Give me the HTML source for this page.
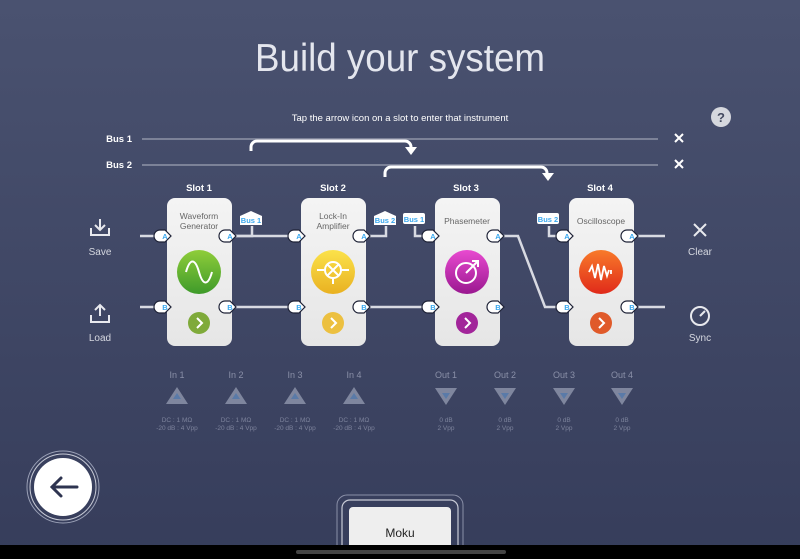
<!DOCTYPE html>
<html><head><meta charset="utf-8"><style>
html,body{margin:0;padding:0;width:800px;height:559px;overflow:hidden;background:#424a68}
svg{display:block;font-family:"Liberation Sans",sans-serif}
</style></head><body>
<svg width="800" height="559" viewBox="0 0 800 559" xmlns="http://www.w3.org/2000/svg">
<defs>
<linearGradient id="bg" x1="0" y1="0" x2="0" y2="1"><stop offset="0" stop-color="#4a5270"/><stop offset="1" stop-color="#363d5b"/></linearGradient>
<linearGradient id="card" x1="0" y1="0" x2="0" y2="1"><stop offset="0" stop-color="#f4f4f4"/><stop offset="1" stop-color="#e6e6e6"/></linearGradient>
<linearGradient id="g1" x1="0" y1="0" x2="0" y2="1"><stop offset="0" stop-color="#8fcd3a"/><stop offset="1" stop-color="#3e9a2a"/></linearGradient>
<linearGradient id="g2" x1="0" y1="0" x2="0" y2="1"><stop offset="0" stop-color="#fbe24a"/><stop offset="1" stop-color="#e9b121"/></linearGradient>
<linearGradient id="g3" x1="0" y1="0" x2="0" y2="1"><stop offset="0" stop-color="#e84ad0"/><stop offset="1" stop-color="#9a1890"/></linearGradient>
<linearGradient id="g4" x1="0" y1="0" x2="0" y2="1"><stop offset="0" stop-color="#f87a2a"/><stop offset="1" stop-color="#e02a1a"/></linearGradient>
<g id="portL"><path d="M-7,-6 h5 l6,6 l-6,6 h-5 a6,6 0 0 1 0,-12z" fill="#fff" stroke="#1e2236" stroke-width="1.2"/></g>
</defs>
<rect width="800" height="559" fill="url(#bg)"/>
<text x="400" y="71" font-size="39" font-weight="300" fill="#e4e6ee" text-anchor="middle" textLength="290" lengthAdjust="spacingAndGlyphs">Build your system</text>
<text x="400" y="121" font-size="9.5" fill="#fff" text-anchor="middle">Tap the arrow icon on a slot to enter that instrument</text>
<circle cx="721" cy="117" r="10" fill="#d6d8de"/><text x="721" y="122" font-size="13" font-weight="bold" fill="#444a60" text-anchor="middle">?</text>
<g font-size="9.5" font-weight="bold" fill="#fff" text-anchor="end"><text x="132" y="142">Bus 1</text><text x="132" y="168">Bus 2</text></g>
<line x1="142" y1="139" x2="658" y2="139" stroke="#7c8298" stroke-width="2"/>
<line x1="142" y1="165" x2="658" y2="165" stroke="#7c8298" stroke-width="2"/>
<g stroke="#fff" stroke-width="2"><path d="M675,134 l8,8 M683,134 l-8,8"/><path d="M675,160 l8,8 M683,160 l-8,8"/></g>
<g fill="none" stroke="#fff" stroke-width="3"><path d="M251,151 v-4 a6,6 0 0 1 6,-6 h148 a6,6 0 0 1 6,6 v1"/><path d="M385,177 v-4 a6,6 0 0 1 6,-6 h150 a6,6 0 0 1 6,6 v1"/></g>
<path d="M405,147 h12 l-6,8z M542,173 h12 l-6,8z" fill="#fff"/>
<g font-size="9.5" font-weight="bold" fill="#fff" text-anchor="middle"><text x="199" y="191">Slot 1</text><text x="333" y="191">Slot 2</text><text x="466" y="191">Slot 3</text><text x="600" y="191">Slot 4</text></g>
<g fill="none" stroke="#d8dae2" stroke-width="2.5">
<path d="M140,236 H167 M140,307 H167"/>
<path d="M232,236 H301 M232,307 H301"/>
<path d="M366,307 H435"/>
<path d="M500,236 H518 L545,307 H569"/>
<path d="M634,236 H665 M634,307 H665"/>
<path d="M232,236 h20 v-10 M366,236 h20 v-10 M435,236 h-20 v-10 M569,236 h-20 v-10"/>
</g>
<g>
<rect x="167" y="198" width="65" height="148" rx="8" fill="url(#card)"/>
<rect x="301" y="198" width="65" height="148" rx="8" fill="url(#card)"/>
<rect x="435" y="198" width="65" height="148" rx="8" fill="url(#card)"/>
<rect x="569" y="198" width="65" height="148" rx="8" fill="url(#card)"/>
</g>
<g font-size="8.5" fill="#666" text-anchor="middle">
<text x="199" y="219">Waveform</text><text x="199" y="229">Generator</text>
<text x="333" y="219">Lock-In</text><text x="333" y="229">Amplifier</text>
<text x="467" y="224">Phasemeter</text>
<text x="601" y="224">Oscilloscope</text>
</g>
<circle cx="199" cy="272" r="22" fill="url(#g1)"/>
<path d="M186,272 c4,-14 9,-14 13,0 s9,14 13,0" fill="none" stroke="#fff" stroke-width="2"/>
<circle cx="333" cy="272" r="22" fill="url(#g2)"/>
<g fill="none" stroke="#fff" stroke-width="2"><circle cx="333" cy="270" r="8"/><path d="M327,264 l12,12 M339,264 l-12,12 M317,270 h8 M341,270 h8 M333,278 v6"/></g>
<circle cx="467" cy="272" r="22" fill="url(#g3)"/>
<g fill="none" stroke="#fff" stroke-width="2"><circle cx="466" cy="273" r="10"/><path d="M466,273 l11,-11 M472,261 h6 v6"/></g>
<circle cx="601" cy="272" r="22" fill="url(#g4)"/>
<path d="M589,272 l3,-6 l3,12 l3,-14 l3,16 l3,-14 l3,10 l2,-6 M611,270 v4" fill="none" stroke="#fff" stroke-width="1.8"/>
<g fill="none" stroke="#fff" stroke-width="2">
<circle cx="199" cy="323" r="11" fill="#7faa3a" stroke="none"/><path d="M197,318 l5,5 l-5,5"/>
<circle cx="333" cy="323" r="11" fill="#ecc040" stroke="none"/><path d="M331,318 l5,5 l-5,5"/>
<circle cx="467" cy="323" r="11" fill="#a2259a" stroke="none"/><path d="M465,318 l5,5 l-5,5"/>
<circle cx="601" cy="323" r="11" fill="#e05a2a" stroke="none"/><path d="M599,318 l5,5 l-5,5"/>
</g>
<g font-size="7.5" font-weight="bold" fill="#3aa8ee" text-anchor="middle">
<use href="#portL" x="167" y="236"/><use href="#portL" x="167" y="307"/><use href="#portL" x="232" y="236"/><use href="#portL" x="232" y="307"/>
<use href="#portL" x="301" y="236"/><use href="#portL" x="301" y="307"/><use href="#portL" x="366" y="236"/><use href="#portL" x="366" y="307"/>
<use href="#portL" x="435" y="236"/><use href="#portL" x="435" y="307"/><use href="#portL" x="500" y="236"/><use href="#portL" x="500" y="307"/>
<use href="#portL" x="569" y="236"/><use href="#portL" x="569" y="307"/><use href="#portL" x="634" y="236"/><use href="#portL" x="634" y="307"/>
<text x="165" y="239">A</text><text x="165" y="310">B</text><text x="230" y="239">A</text><text x="230" y="310">B</text>
<text x="299" y="239">A</text><text x="299" y="310">B</text><text x="364" y="239">A</text><text x="364" y="310">B</text>
<text x="433" y="239">A</text><text x="433" y="310">B</text><text x="498" y="239">A</text><text x="498" y="310">B</text>
<text x="567" y="239">A</text><text x="567" y="310">B</text><text x="632" y="239">A</text><text x="632" y="310">B</text>
</g>
<g font-size="7.5" font-weight="bold" fill="#3aa8ee" text-anchor="middle">
<path d="M240,216 l11,-5 l11,5 v9 h-22z" fill="#fff"/><text x="251" y="223">Bus 1</text>
<path d="M374,216 l11,-5 l11,5 v9 h-22z" fill="#fff"/><text x="385" y="223">Bus 2</text>
<rect x="403" y="213" width="22" height="11" rx="2" fill="#fff"/><text x="414" y="222">Bus 1</text>
<rect x="537" y="213" width="22" height="11" rx="2" fill="#fff"/><text x="548" y="222">Bus 2</text>
</g>
<g fill="none" stroke="#e8e9ee" stroke-width="2">
<path d="M91,228 v7 h18 v-7 M100,219 v11 M95,225 l5,5 l5,-5"/>
<path d="M91,315 v7 h18 v-7 M100,305 v11 M95,310 l5,-5 l5,5"/>
<path d="M694,224 l12,12 M706,224 l-12,12"/>
<circle cx="700" cy="316" r="9"/><path d="M700,316 l5,-5"/>
</g>
<g font-size="10" fill="#d6d8e0" text-anchor="middle">
<text x="100" y="255">Save</text><text x="100" y="341">Load</text><text x="700" y="255">Clear</text><text x="700" y="341">Sync</text>
</g>
<g font-size="9" fill="#8a90a8" text-anchor="middle">
<text x="177" y="378">In 1</text><text x="236" y="378">In 2</text><text x="295" y="378">In 3</text><text x="354" y="378">In 4</text>
<text x="446" y="378">Out 1</text><text x="505" y="378">Out 2</text><text x="564" y="378">Out 3</text><text x="622" y="378">Out 4</text>
</g>
<g fill="#7f869e">
<path d="M177,387 l11,17 h-22z"/><path d="M236,387 l11,17 h-22z"/><path d="M295,387 l11,17 h-22z"/><path d="M354,387 l11,17 h-22z"/>
<path d="M446,405 l11,-17 h-22z"/><path d="M505,405 l11,-17 h-22z"/><path d="M564,405 l11,-17 h-22z"/><path d="M622,405 l11,-17 h-22z"/>
</g>
<g fill="#5a7aa8">
<path d="M177,393 l4,6 h-8z"/><path d="M236,393 l4,6 h-8z"/><path d="M295,393 l4,6 h-8z"/><path d="M354,393 l4,6 h-8z"/>
<path d="M446,399 l4,-6 h-8z"/><path d="M505,399 l4,-6 h-8z"/><path d="M564,399 l4,-6 h-8z"/><path d="M622,399 l4,-6 h-8z"/>
</g>
<g font-size="6.5" fill="#7d839c" text-anchor="middle">
<text x="177" y="422">DC : 1 MΩ</text><text x="177" y="430">-20 dB : 4 Vpp</text>
<text x="236" y="422">DC : 1 MΩ</text><text x="236" y="430">-20 dB : 4 Vpp</text>
<text x="295" y="422">DC : 1 MΩ</text><text x="295" y="430">-20 dB : 4 Vpp</text>
<text x="354" y="422">DC : 1 MΩ</text><text x="354" y="430">-20 dB : 4 Vpp</text>
<text x="446" y="422">0 dB</text><text x="446" y="430">2 Vpp</text>
<text x="505" y="422">0 dB</text><text x="505" y="430">2 Vpp</text>
<text x="564" y="422">0 dB</text><text x="564" y="430">2 Vpp</text>
<text x="622" y="422">0 dB</text><text x="622" y="430">2 Vpp</text>
</g>
<circle cx="63" cy="487" r="36" fill="none" stroke="#9aa0b6" stroke-width="1"/>
<circle cx="63" cy="487" r="33" fill="none" stroke="#c8cbd6" stroke-width="1"/>
<circle cx="63" cy="487" r="29" fill="#fff"/>
<path d="M77,487 h-24 M61,478 l-9,9 l9,9" fill="none" stroke="#2e3450" stroke-width="3" stroke-linecap="round"/>
<rect x="337" y="495" width="126" height="60" rx="10" fill="none" stroke="#8a90a8" stroke-width="1"/>
<rect x="342" y="500" width="116" height="55" rx="8" fill="none" stroke="#c8cbd6" stroke-width="1.2"/>
<rect x="349" y="507" width="102" height="45" rx="4" fill="#eeeeee"/>
<text x="400" y="537" font-size="12" fill="#222" text-anchor="middle">Moku</text>
<rect x="0" y="545" width="800" height="14" fill="#000"/>
<rect x="296" y="550" width="210" height="4" rx="2" fill="#444"/>
</svg>
</body></html>
